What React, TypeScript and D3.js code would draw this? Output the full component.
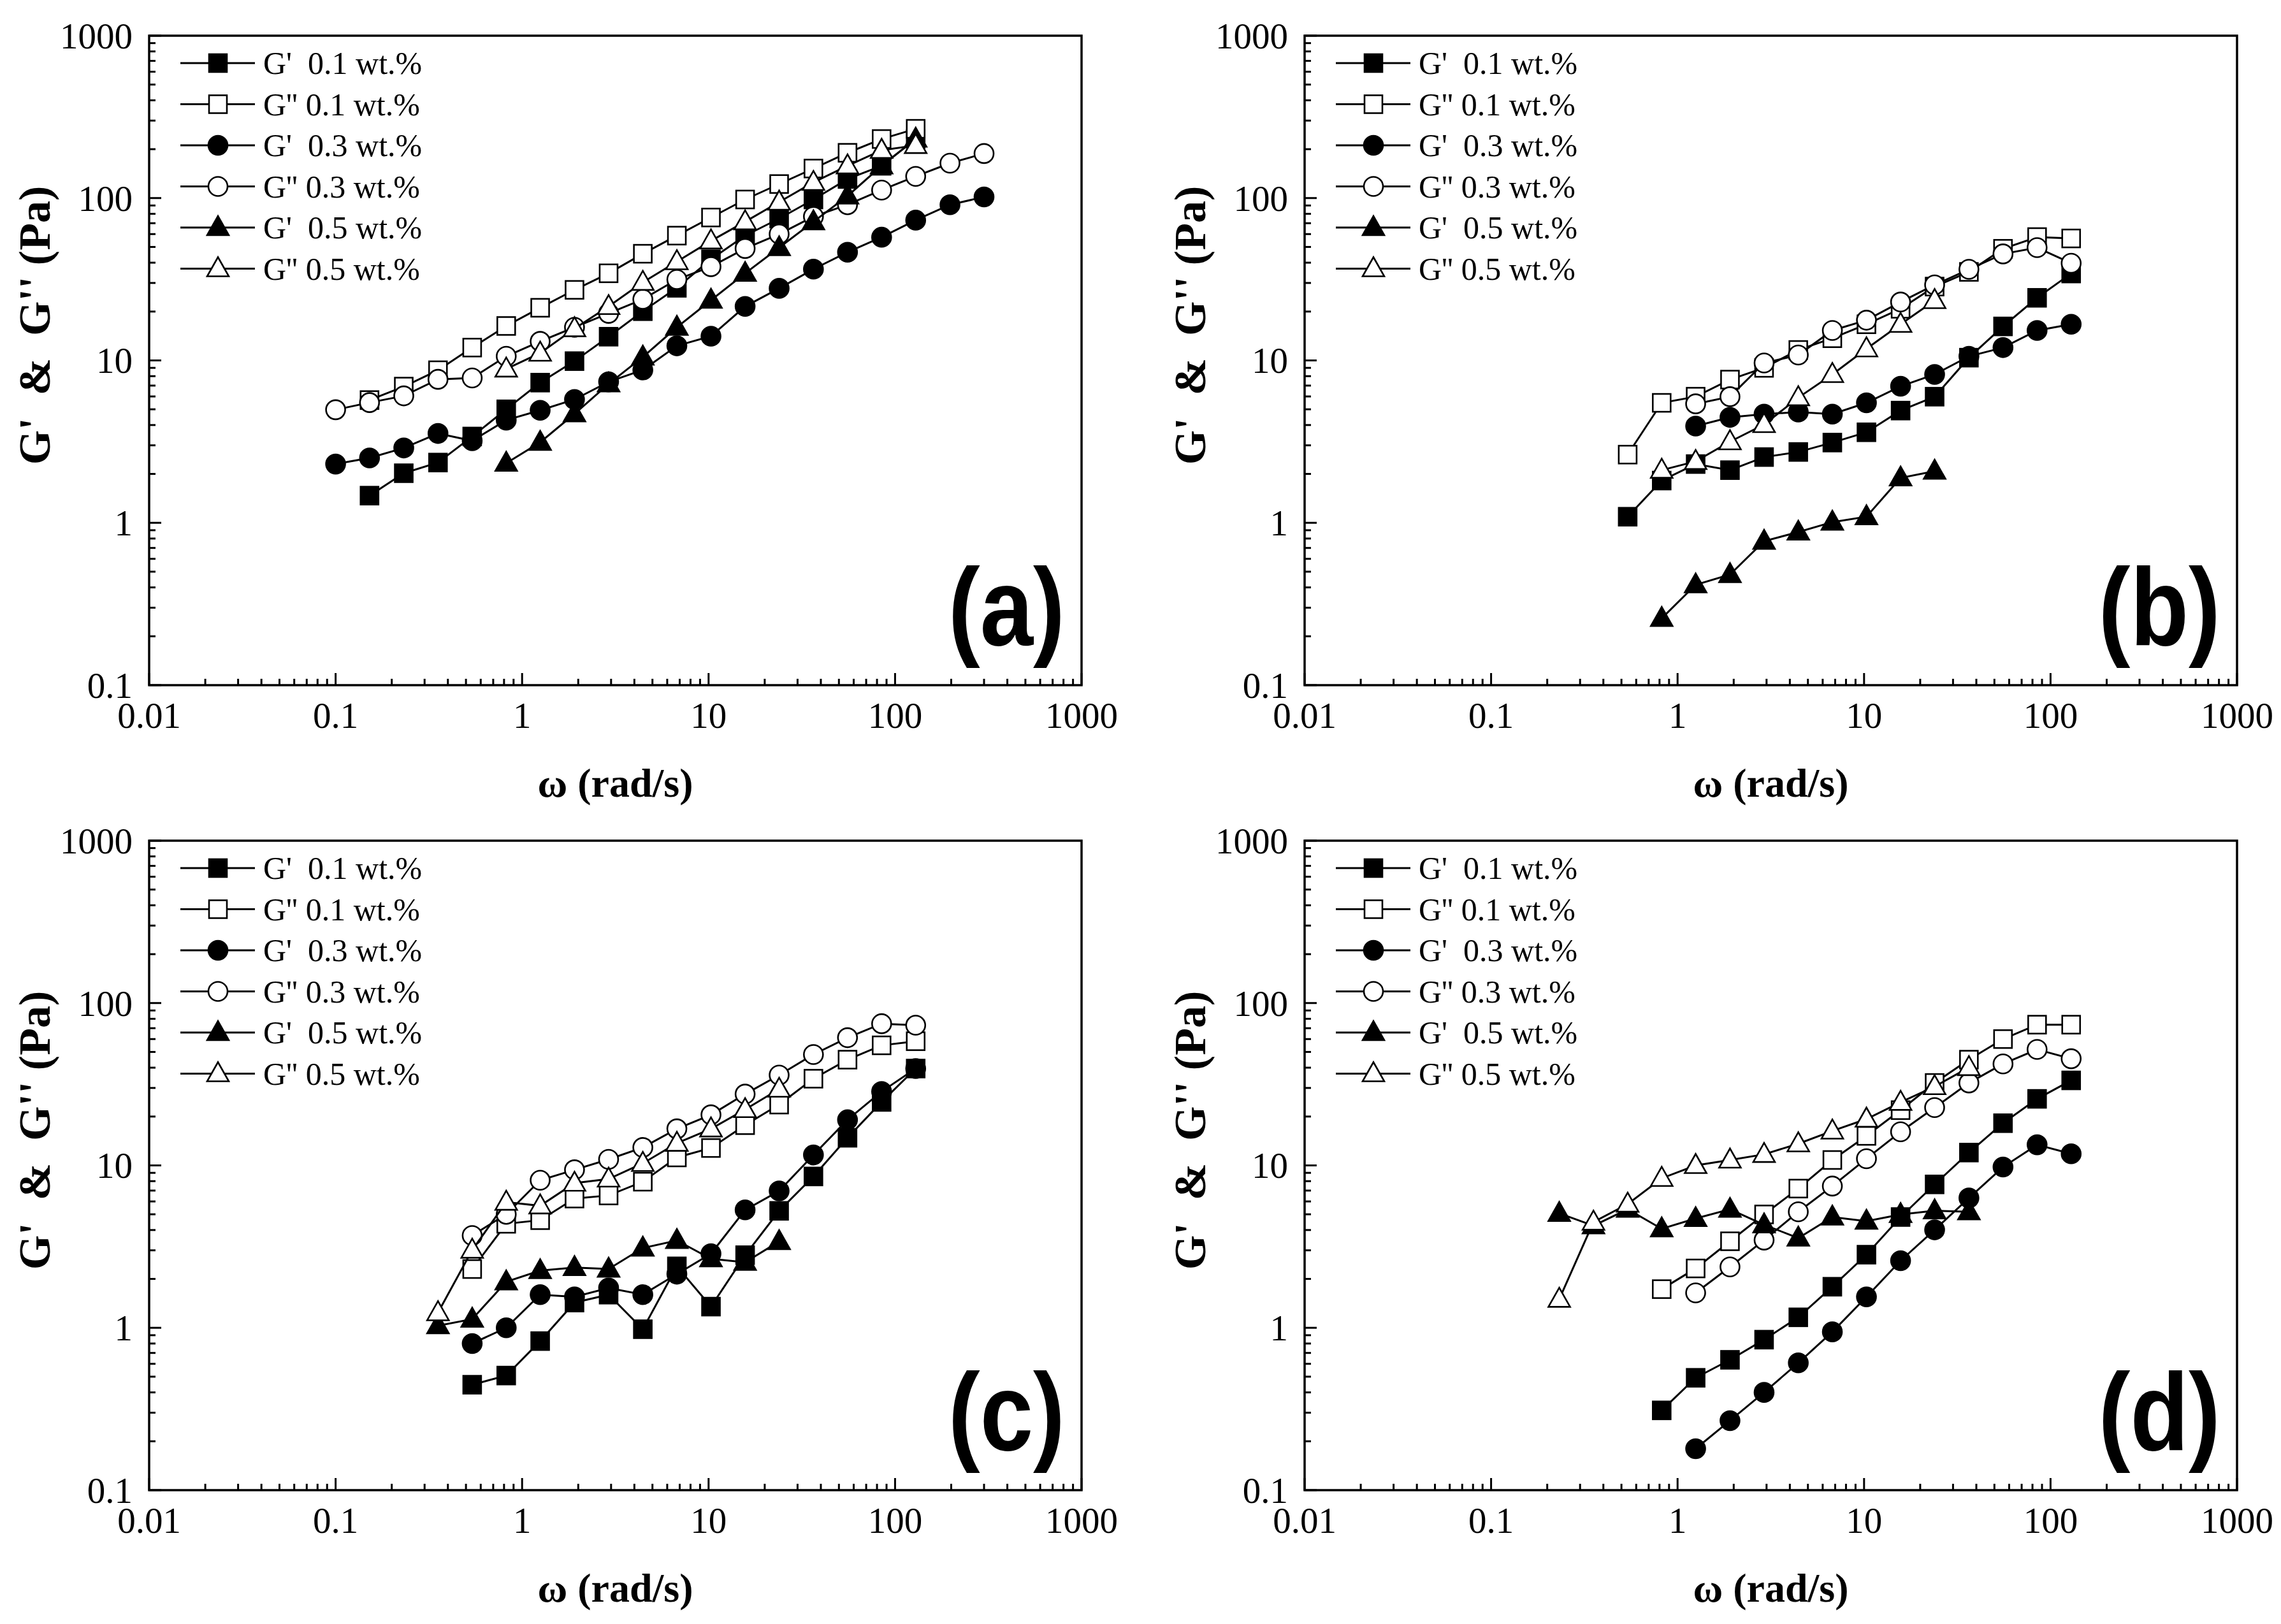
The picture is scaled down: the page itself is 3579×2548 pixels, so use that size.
import React from 'react';
import * as d3 from 'd3';

// angular frequency grid (rad/s), shared by every sweep
const OMEGA = [0.1, 0.152, 0.232, 0.354, 0.54, 0.822, 1.25, 1.91, 2.91, 4.44, 6.76, 10.3, 15.7, 23.9, 36.5, 55.6, 84.7, 129, 197, 300];

const X_TICKS = [0.01, 0.1, 1, 10, 100, 1000];
const X_LABELS = ['0.01', '0.1', '1', '10', '100', '1000'];
const Y_TICKS = [0.1, 1, 10, 100, 1000];
const Y_LABELS = ['0.1', '1', '10', '100', '1000'];

const LEGEND = ["G'  0.1 wt.%", "G'' 0.1 wt.%", "G'  0.3 wt.%", "G'' 0.3 wt.%", "G'  0.5 wt.%", "G'' 0.5 wt.%"];
const SHAPES = ['square', 'square', 'circle', 'circle', 'triangle', 'triangle'];
const FILLED = [true, false, true, false, true, false];

// (a)
const A_GP1 = [1.47, 2.02, 2.35, 3.4, 5.0, 7.3, 9.9, 14.0, 20.1, 28, 42, 58.7, 74.7, 98, 131, 158, 231];
const A_GPP1 = [5.7, 6.9, 8.7, 12.0, 16.3, 21.1, 27.2, 34.4, 45.4, 58.7, 75.9, 98, 122, 152, 190, 231, 267];
const A_GP3 = [2.3, 2.51, 2.89, 3.55, 3.2, 4.29, 4.93, 5.75, 7.38, 8.73, 12.3, 14.1, 21.5, 27.8, 36.5, 46.4, 57.4, 73.1, 91, 101.6];
const A_GPP3 = [4.97, 5.5, 6.05, 7.65, 7.8, 10.6, 13.1, 16.0, 19.5, 23.8, 31.5, 37.8, 48.9, 60, 76.9, 91, 112, 136, 164, 188];
const A_GP5 = [2.33, 3.13, 4.69, 7.17, 10.5, 16.0, 23.5, 34.4, 49.5, 71.5, 103, 158, 231];
const A_GPP5 = [8.86, 11.1, 15.7, 21.5, 30.3, 40.6, 54.5, 71.5, 94.5, 125, 158, 197, 211];
const A_START = [1, 1, 0, 0, 5, 5];

// (b)
const B_GP1 = [1.09, 1.82, 2.3, 2.11, 2.54, 2.73, 3.12, 3.61, 4.91, 5.98, 10.4, 16.2, 24.3, 34.3];
const B_GPP1 = [2.63, 5.48, 5.98, 7.62, 9.0, 11.6, 13.7, 16.7, 20.8, 28.5, 35.1, 48.7, 57.5, 56.4];
const B_GP3 = [3.94, 4.46, 4.67, 4.81, 4.67, 5.48, 6.93, 8.2, 10.6, 12.0, 15.3, 16.7];
const B_GPP3 = [5.4, 5.98, 9.64, 10.8, 15.3, 17.7, 22.9, 29.2, 36.4, 45.3, 49.5, 39.7];
const B_GP5 = [0.258, 0.415, 0.48, 0.77, 0.877, 1.01, 1.09, 1.89, 2.08];
const B_GPP5 = [2.11, 2.39, 3.16, 4.03, 5.9, 8.2, 11.8, 16.7, 23.4];
const B_START = [4, 4, 6, 6, 5, 5];

// (c)
const C_GP1 = [0.446, 0.508, 0.828, 1.43, 1.6, 0.98, 2.39, 1.35, 2.8, 5.25, 8.55, 14.8, 24.6, 39.5];
const C_GPP1 = [2.3, 4.37, 4.6, 6.25, 6.53, 7.94, 11.2, 12.8, 17.7, 23.7, 34.2, 44.8, 54.9, 58.2];
const C_GP3 = [0.8, 1.0, 1.6, 1.55, 1.76, 1.6, 2.14, 2.86, 5.32, 6.97, 11.6, 19.1, 28.5, 39.5];
const C_GPP3 = [3.7, 5.0, 8.1, 9.4, 10.9, 12.9, 16.8, 20.5, 27.5, 36, 48.2, 61.2, 74.6, 73];
const C_GP5 = [1.03, 1.13, 1.92, 2.25, 2.35, 2.3, 3.1, 3.45, 2.66, 2.53, 3.4];
const C_GPP5 = [1.24, 3.01, 5.94, 5.64, 7.78, 8.25, 10.3, 13.7, 16.8, 22.1, 29.5];
const C_START = [4, 4, 4, 4, 3, 3];

// (d)
const D_GP1 = [0.31, 0.492, 0.635, 0.845, 1.16, 1.79, 2.82, 4.81, 7.64, 12.0, 18.2, 25.7, 33.4];
const D_GPP1 = [1.73, 2.32, 3.41, 4.99, 7.2, 10.8, 15.2, 21.9, 32.2, 44.8, 60, 73.6, 73.6];
const D_GP3 = [0.18, 0.268, 0.4, 0.608, 0.944, 1.55, 2.59, 4.01, 6.3, 9.77, 13.4, 11.8];
const D_GPP3 = [1.64, 2.37, 3.47, 5.18, 7.46, 11.0, 16.1, 22.7, 32.2, 42.2, 51.8, 45.4];
const D_GP5 = [5.07, 4.25, 5.37, 4.07, 4.71, 5.37, 4.31, 3.57, 4.81, 4.54, 4.99, 5.26, 5.18];
const D_GPP5 = [1.5, 4.48, 5.78, 8.33, 10.0, 10.8, 11.7, 13.6, 16.3, 19.3, 24.5, 30.6, 40.1];
const D_START = [5, 5, 6, 6, 2, 2];

const PANELS = [
  { tag: '(a)', ox: 234, oy: 56, series: [A_GP1, A_GPP1, A_GP3, A_GPP3, A_GP5, A_GPP5], start: A_START },
  { tag: '(b)', ox: 2047, oy: 56, series: [B_GP1, B_GPP1, B_GP3, B_GPP3, B_GP5, B_GPP5], start: B_START },
  { tag: '(c)', ox: 234, oy: 1319, series: [C_GP1, C_GPP1, C_GP3, C_GPP3, C_GP5, C_GPP5], start: C_START },
  { tag: '(d)', ox: 2047, oy: 1319, series: [D_GP1, D_GPP1, D_GP3, D_GPP3, D_GP5, D_GPP5], start: D_START },
];

const PW = 1463;
const PH = 1019;
const SERIF = '"Liberation Serif", "Times New Roman", serif';

const x = d3.scaleLog().domain([0.01, 1000]).range([0, PW]);
const y = d3.scaleLog().domain([0.1, 1000]).range([PH, 0]);
const line = d3.line<[number, number]>();

const Marker = ({ shape, filled, cx, cy }) => {
  const fill = filled ? '#000' : '#fff';
  const sw = 2.6;
  if (shape === 'square') {
    return <rect x={cx - 14} y={cy - 14} width={28} height={28} fill={fill} stroke="#000" strokeWidth={sw} />;
  }
  if (shape === 'circle') {
    return <circle cx={cx} cy={cy} r={15} fill={fill} stroke="#000" strokeWidth={sw} />;
  }
  const pts = [[cx, cy - 18], [cx - 17, cy + 12], [cx + 17, cy + 12]];
  return <polygon points={pts.map(p => p.join(',')).join(' ')} fill={fill} stroke="#000" strokeWidth={sw} strokeLinejoin="miter" />;
};

const Panel = ({ p }) => {
  const minorX = x.ticks().filter(t => !X_TICKS.includes(t));
  const minorY = y.ticks().filter(t => !Y_TICKS.includes(t));
  return (
    <g transform={`translate(${p.ox},${p.oy})`}>
      {/* data */}
      {p.series.map((vals, si) => {
        const pts: [number, number][] = vals.map((v, i) => [x(OMEGA[p.start[si] + i]), y(v)]);
        return (
          <g key={si}>
            <path d={line(pts)} fill="none" stroke="#000" strokeWidth={3} />
            {pts.map((pt, i) => (
              <Marker key={i} shape={SHAPES[si]} filled={FILLED[si]} cx={pt[0]} cy={pt[1]} />
            ))}
          </g>
        );
      })}

      {/* frame */}
      <rect x={0} y={0} width={PW} height={PH} fill="none" stroke="#000" strokeWidth={3.5} />

      {/* x ticks */}
      {X_TICKS.map((t, i) => (
        <g key={'xt' + i}>
          <line x1={x(t)} x2={x(t)} y1={PH} y2={PH - 19} stroke="#000" strokeWidth={3} />
          <text x={x(t)} y={PH + 67} textAnchor="middle" fontFamily={SERIF} fontSize={57}>{X_LABELS[i]}</text>
        </g>
      ))}
      {minorX.map((t, i) => (
        <line key={'xm' + i} x1={x(t)} x2={x(t)} y1={PH} y2={PH - 10} stroke="#000" strokeWidth={3} />
      ))}

      {/* y ticks */}
      {Y_TICKS.map((t, i) => (
        <g key={'yt' + i}>
          <line x1={0} x2={19} y1={y(t)} y2={y(t)} stroke="#000" strokeWidth={3} />
          <text x={-26} y={y(t)} dy="0.35em" textAnchor="end" fontFamily={SERIF} fontSize={57}>{Y_LABELS[i]}</text>
        </g>
      ))}
      {minorY.map((t, i) => (
        <line key={'ym' + i} x1={0} x2={10} y1={y(t)} y2={y(t)} stroke="#000" strokeWidth={3} />
      ))}

      {/* axis titles */}
      <text x={PW / 2} y={PH + 175} textAnchor="middle" fontFamily={SERIF} fontWeight="bold" fontSize={64}>ω (rad/s)</text>
      <text transform={`translate(${-156},${PH / 2 - 55}) rotate(-90)`} textAnchor="middle" fontFamily={SERIF} fontWeight="bold" fontSize={70} style={{ whiteSpace: 'pre' }}>
        {"G'  &  G'' (Pa)"}
      </text>

      {/* legend */}
      {LEGEND.map((lab, i) => {
        const ly = 43 + i * 64.5;
        return (
          <g key={'lg' + i}>
            <line x1={49} x2={166} y1={ly} y2={ly} stroke="#000" strokeWidth={3} />
            <Marker shape={SHAPES[i]} filled={FILLED[i]} cx={108} cy={ly} />
            <text x={179} y={ly + 17} fontFamily={SERIF} fontSize={50} style={{ whiteSpace: 'pre' }}>{lab}</text>
          </g>
        );
      })}

      {/* panel tag */}
      <text transform={`translate(${PW - 26},${PH - 63}) scale(1,1.15)`} textAnchor="end" fontFamily='"Liberation Sans", Arial, sans-serif' fontWeight="bold" fontSize={150}>
        {p.tag}
      </text>
    </g>
  );
};

export default function App() {
  return (
    <svg width={3579} height={2548} viewBox="0 0 3579 2548" style={{ position: 'absolute', left: 0, top: 0, background: '#fff' }}>
      <rect width={3579} height={2548} fill="#fff" />
      {PANELS.map(p => <Panel key={p.tag} p={p} />)}
    </svg>
  );
}
